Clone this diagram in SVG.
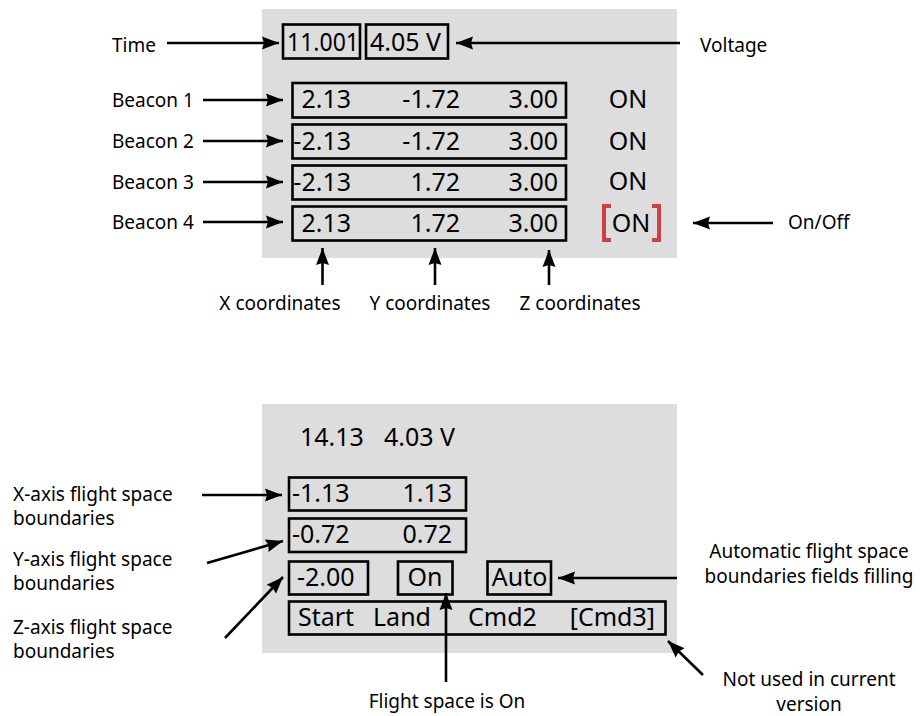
<svg xmlns="http://www.w3.org/2000/svg" width="920" height="716" viewBox="0 0 920 716">
<style>
  .panel { fill: #dddddd; }
  .box { fill: none; stroke: #000; stroke-width: 2.6; }
  .val { font-family: "Noto Sans", "DejaVu Sans", sans-serif; font-size: 25px; fill: #000; }
  .lbl { font-family: "Noto Sans", "DejaVu Sans", sans-serif; font-size: 19px; fill: #000; }
  .conn { stroke: #000; stroke-width: 2.6; fill: none; marker-end: url(#ah); }
  .br { fill: none; stroke: #cc4242; stroke-width: 4; }
</style>
<defs>
  <marker id="ah" markerUnits="userSpaceOnUse" markerWidth="18" markerHeight="14" refX="17" refY="6.5" orient="auto" viewBox="0 0 18 13">
    <path d="M0,0 L17,6.5 L0,13 L2,6.5 Z" fill="#000"/>
  </marker>
</defs>
<rect x="0" y="0" width="920" height="716" fill="#fff"/>

<g id="top-panel">
  <rect class="panel" x="262" y="9" width="415" height="249"/>
</g>
<g id="time-box">
  <rect class="box" x="283" y="24.5" width="77" height="34"/>
  <text class="val" x="287" y="51" textLength="72" lengthAdjust="spacingAndGlyphs">11.001</text>
</g>
<g id="voltage-box">
  <rect class="box" x="366" y="24.5" width="82" height="34"/>
  <text class="val" x="370" y="51">4.05 V</text>
</g>
<g id="beacon1-box">
  <rect class="box" x="292.5" y="83" width="273.5" height="34.5"/>
  <text class="val" x="351" y="108" text-anchor="end">2.13</text>
  <text class="val" x="460" y="108" text-anchor="end">-1.72</text>
  <text class="val" x="558" y="108" text-anchor="end">3.00</text>
</g>
<g id="beacon2-box">
  <rect class="box" x="292.5" y="124.5" width="273.5" height="34"/>
  <text class="val" x="351" y="149.5" text-anchor="end">-2.13</text>
  <text class="val" x="460" y="149.5" text-anchor="end">-1.72</text>
  <text class="val" x="558" y="149.5" text-anchor="end">3.00</text>
</g>
<g id="beacon3-box">
  <rect class="box" x="292.5" y="165.5" width="273.5" height="34"/>
  <text class="val" x="351" y="190.5" text-anchor="end">-2.13</text>
  <text class="val" x="460" y="190.5" text-anchor="end">1.72</text>
  <text class="val" x="558" y="190.5" text-anchor="end">3.00</text>
</g>
<g id="beacon4-box">
  <rect class="box" x="292.5" y="206.5" width="273.5" height="34"/>
  <text class="val" x="351" y="231.5" text-anchor="end">2.13</text>
  <text class="val" x="460" y="231.5" text-anchor="end">1.72</text>
  <text class="val" x="558" y="231.5" text-anchor="end">3.00</text>
</g>
<g id="on-states">
  <text class="val" x="628" y="108" text-anchor="middle">ON</text>
  <text class="val" x="628" y="150" text-anchor="middle">ON</text>
  <text class="val" x="628" y="190" text-anchor="middle">ON</text>
  <text class="val" x="631" y="232" text-anchor="middle">ON</text>
  <path class="br" d="M611,206 H604 V240 H611"/>
  <path class="br" d="M652,206 H659 V240 H652"/>
</g>

<g id="top-labels">
  <text class="lbl" x="112" y="52">Time</text>
  <text class="lbl" x="700" y="52">Voltage</text>
  <text class="lbl" x="112" y="107">Beacon 1</text>
  <text class="lbl" x="112" y="148">Beacon 2</text>
  <text class="lbl" x="112" y="189">Beacon 3</text>
  <text class="lbl" x="112" y="229">Beacon 4</text>
  <text class="lbl" x="788" y="229">On/Off</text>
  <text class="lbl" x="280" y="310" text-anchor="middle">X coordinates</text>
  <text class="lbl" x="430" y="310" text-anchor="middle">Y coordinates</text>
  <text class="lbl" x="580" y="310" text-anchor="middle">Z coordinates</text>
</g>

<g id="bottom-panel">
  <rect class="panel" x="262" y="404" width="415" height="249"/>
  <text class="val" x="300" y="446">14.13</text>
  <text class="val" x="384" y="446">4.03 V</text>
</g>
<g id="x-bounds-box">
  <rect class="box" x="289" y="477.5" width="177" height="33"/>
  <text class="val" x="292" y="502">-1.13</text>
  <text class="val" x="452" y="502" text-anchor="end">1.13</text>
</g>
<g id="y-bounds-box">
  <rect class="box" x="289" y="518.5" width="177" height="33.5"/>
  <text class="val" x="292" y="543">-0.72</text>
  <text class="val" x="452" y="543" text-anchor="end">0.72</text>
</g>
<g id="z-bounds-box">
  <rect class="box" x="289" y="561.5" width="79" height="33"/>
  <text class="val" x="297" y="586">-2.00</text>
</g>
<g id="on-box">
  <rect class="box" x="398" y="561.5" width="54.5" height="33"/>
  <text class="val" x="425" y="586" text-anchor="middle">On</text>
</g>
<g id="auto-box">
  <rect class="box" x="487.5" y="561.5" width="63.5" height="33"/>
  <text class="val" x="519.5" y="586" text-anchor="middle">Auto</text>
</g>
<g id="cmd-box">
  <rect class="box" x="289" y="601.5" width="376.5" height="33"/>
  <text class="val" x="298" y="626">Start</text>
  <text class="val" x="373" y="626">Land</text>
  <text class="val" x="468" y="626">Cmd2</text>
  <text class="val" x="655" y="626" text-anchor="end">[Cmd3]</text>
</g>

<g id="bottom-labels">
  <text class="lbl" x="13" y="501">X-axis flight space</text>
  <text class="lbl" x="13" y="525">boundaries</text>
  <text class="lbl" x="13" y="566">Y-axis flight space</text>
  <text class="lbl" x="13" y="590">boundaries</text>
  <text class="lbl" x="13" y="634">Z-axis flight space</text>
  <text class="lbl" x="13" y="658">boundaries</text>
  <text class="lbl" x="447" y="708" text-anchor="middle">Flight space is On</text>
  <text class="lbl" x="809" y="558" text-anchor="middle">Automatic flight space</text>
  <text class="lbl" x="809" y="583" text-anchor="middle">boundaries fields filling</text>
  <text class="lbl" x="809" y="686" text-anchor="middle">Not used in current</text>
  <text class="lbl" x="809" y="711" text-anchor="middle">version</text>
</g>

<g id="connectors">
  <line class="conn" x1="167" y1="43" x2="279" y2="43"/>
  <line class="conn" x1="680" y1="43" x2="456" y2="43"/>
  <line class="conn" x1="203" y1="100" x2="283" y2="100"/>
  <line class="conn" x1="203" y1="141" x2="283" y2="141"/>
  <line class="conn" x1="203" y1="182" x2="283" y2="182"/>
  <line class="conn" x1="203" y1="222" x2="283" y2="222"/>
  <line class="conn" x1="773" y1="223" x2="693" y2="223"/>
  <line class="conn" x1="322.5" y1="285" x2="322.5" y2="248"/>
  <line class="conn" x1="435" y1="285" x2="435" y2="248"/>
  <line class="conn" x1="549" y1="285" x2="549" y2="250"/>
  <line class="conn" x1="202" y1="495" x2="282" y2="495"/>
  <line class="conn" x1="207" y1="563" x2="283" y2="541"/>
  <line class="conn" x1="225" y1="638" x2="283" y2="577"/>
  <line class="conn" x1="446" y1="682" x2="446" y2="593"/>
  <line class="conn" x1="677" y1="578" x2="558" y2="578"/>
  <line class="conn" x1="703" y1="675" x2="668" y2="641"/>
</g>
</svg>
